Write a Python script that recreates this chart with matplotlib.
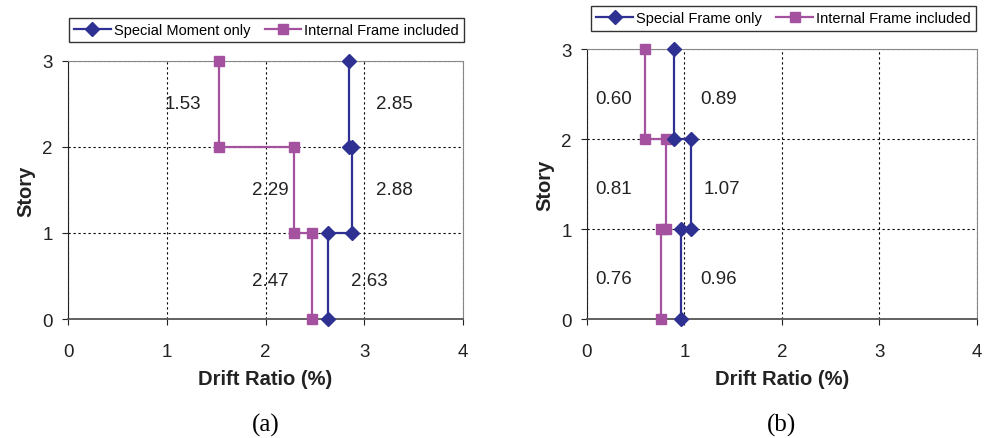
import matplotlib.pyplot as plt

plt.rcParams['font.family'] = ['Liberation Sans', 'DejaVu Sans']

# story levels for the step profile
story = [0, 1, 1, 2, 2, 3]

# (a) drift ratios
moment_only = [2.63, 2.63, 2.88, 2.88, 2.85, 2.85]
internal_a = [2.47, 2.47, 2.29, 2.29, 1.53, 1.53]
labels_a = [("1.53", 1.16, 2.5), ("2.85", 3.3, 2.5), ("2.29", 2.05, 1.5),
            ("2.88", 3.3, 1.5), ("2.47", 2.05, 0.45), ("2.63", 3.05, 0.45)]

# (b) drift ratios
frame_only = [0.96, 0.96, 1.07, 1.07, 0.89, 0.89]
internal_b = [0.76, 0.76, 0.81, 0.81, 0.60, 0.60]
labels_b = [("0.60", 0.27, 2.45), ("0.89", 1.35, 2.45), ("0.81", 0.27, 1.45),
            ("1.07", 1.38, 1.45), ("0.76", 0.27, 0.45), ("0.96", 1.35, 0.45)]

navy = '#2e3192'
purple = '#a4519f'

fig = plt.figure(figsize=(9.86, 4.39), dpi=100)
ax1 = fig.add_axes([0.069, 0.271, 0.4006, 0.588])
ax2 = fig.add_axes([0.5953, 0.271, 0.3955, 0.615])


def draw(ax, blue, pink, texts, name, caption, legbox):
    l1, = ax.plot(blue, story, color=navy, marker='D', ms=7, lw=1.6, label=name,
                  clip_on=False, zorder=4)
    l2, = ax.plot(pink, story, color=purple, marker='s', ms=6.5, lw=1.6,
                  label='Internal Frame included', clip_on=False, zorder=3)
    for t, x, y in texts:
        ax.text(x, y, t, fontsize=13.5, ha='center', va='center', color='#222222')
    ax.set_xlim(0, 4)
    ax.set_ylim(0, 3)
    ax.set_xticks([0, 1, 2, 3, 4])
    ax.set_yticks([0, 1, 2, 3])
    ax.grid(True, color='black', ls=(0, (2, 2.5)), lw=0.8)
    ax.tick_params(labelsize=13.5, length=4, direction='out', colors='#222222')
    ax.tick_params(axis='x', pad=13)
    ax.tick_params(axis='y', pad=7)
    for s in ['top', 'right']:
        ax.spines[s].set_color('#888888')
    ax.spines['left'].set_color('#222222')
    ax.spines['bottom'].set_color('#555555')
    ax.spines['bottom'].set_linewidth(1.3)
    ax.set_xlabel('Drift Ratio (%)', fontsize=14.5, fontweight='bold',
                  labelpad=7, color='#222222')
    ax.set_ylabel('Story', fontsize=14.5, fontweight='bold', labelpad=5,
                  color='#222222')
    leg = ax.legend(handles=[l1, l2], loc='center', bbox_to_anchor=legbox,
                    bbox_transform=fig.transFigure, ncol=2, fontsize=10.5,
                    frameon=True, fancybox=False, edgecolor='black',
                    handlelength=2.5, handletextpad=0.2, columnspacing=1.0,
                    borderpad=0.35)
    leg.get_frame().set_linewidth(1.0)
    pos = ax.get_position()
    fig.text(pos.x0 + pos.width / 2, 0.03, caption, fontsize=18,
             family='Liberation Serif', ha='center', va='center')


draw(ax1, moment_only, internal_a, labels_a, 'Special Moment only', '(a)',
     (0.2703, 0.929))
draw(ax2, frame_only, internal_b, labels_b, 'Special Frame only', '(b)',
     (0.7946, 0.9556))

fig.savefig('out.png', dpi=100)
